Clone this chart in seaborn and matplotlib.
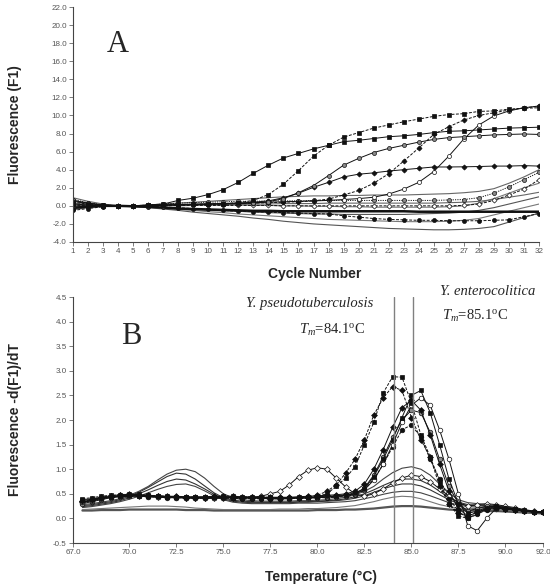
import matplotlib
matplotlib.use("Agg")
import matplotlib.pyplot as plt
import seaborn as sns
from matplotlib.ticker import FormatStrFormatter, FixedLocator

sns.set_style("ticks")
plt.rcParams['font.family'] = ['Liberation Sans', 'DejaVu Sans']
plt.rcParams['mathtext.fontset'] = 'custom'
plt.rcParams['mathtext.rm'] = 'Liberation Serif'
plt.rcParams['mathtext.it'] = 'Liberation Serif:italic'

# ---------------- Panel A data: amplification curves ----------------
cycles = list(range(1, 33))
a_sq_solid = [0.2, 0.1, 0.0, 0.0, 0.0, 0.1, 0.2, 0.6, 0.85, 1.25, 1.8, 2.6, 3.6, 4.5, 5.3, 5.8,
              6.3, 6.7, 7.1, 7.25, 7.45, 7.65, 7.75, 7.9, 8.1, 8.25, 8.3, 8.4, 8.5, 8.6, 8.65, 8.7]
a_sq_dash = [0.4, 0.2, 0.05, 0.0, 0.0, 0.05, 0.1, 0.1, 0.15, 0.2, 0.25, 0.35, 0.6, 1.25, 2.4, 3.9,
             5.5, 6.7, 7.6, 8.1, 8.6, 8.95, 9.3, 9.6, 9.9, 10.1, 10.2, 10.45, 10.5, 10.7, 10.8, 10.85]
a_gc_solid = [0.6, 0.3, 0.1, 0.0, 0.0, 0.0, 0.05, 0.1, 0.15, 0.2, 0.2, 0.25, 0.3, 0.45, 0.8, 1.45,
              2.25, 3.35, 4.5, 5.25, 5.9, 6.35, 6.7, 7.05, 7.35, 7.55, 7.65, 7.75, 7.85, 7.9, 7.95, 7.9]
a_dm_solid = [-0.3, -0.1, 0.0, 0.0, 0.0, 0.05, 0.1, 0.1, 0.15, 0.2, 0.25, 0.3, 0.4, 0.55, 0.9, 1.4,
              2.05, 2.6, 3.2, 3.5, 3.65, 3.85, 4.0, 4.15, 4.3, 4.3, 4.32, 4.35, 4.4, 4.4, 4.45, 4.4]
a_dm_dash = [0.1, 0.05, 0.0, 0.0, 0.0, 0.05, 0.1, 0.1, 0.15, 0.2, 0.2, 0.25, 0.3, 0.35, 0.4, 0.45,
             0.55, 0.75, 1.2, 1.7, 2.5, 3.55, 4.95, 6.4, 7.9, 8.75, 9.5, 10.0, 10.3, 10.6, 10.85, 11.0]
a_oc_solid = [0.5, 0.25, 0.1, 0.0, 0.0, 0.05, 0.1, 0.15, 0.2, 0.2, 0.25, 0.3, 0.35, 0.4, 0.45, 0.5,
              0.55, 0.6, 0.7, 0.8, 0.95, 1.3, 1.85, 2.6, 3.8, 5.5, 7.4, 8.95, 9.95, 10.5, 10.85, 11.05]
a_gc_dot = [0.7, 0.35, 0.1, 0.0, 0.0, 0.1, 0.2, 0.3, 0.35, 0.4, 0.45, 0.5, 0.5, 0.55, 0.55, 0.55,
            0.6, 0.6, 0.6, 0.6, 0.6, 0.6, 0.6, 0.6, 0.6, 0.65, 0.7, 0.9, 1.4, 2.1, 2.9, 3.7]
a_od_dash = [0.0, 0.0, 0.0, 0.0, 0.0, 0.0, 0.0, 0.05, 0.05, 0.05, 0.05, 0.05, 0.05, 0.05, 0.0, 0.0,
             0.0, 0.0, 0.0, 0.0, 0.0, 0.0, 0.0, 0.0, 0.0, 0.0, 0.05, 0.2, 0.6, 1.2, 1.85, 2.9]
a_fc_dash = [-0.5, -0.3, -0.1, 0.0, -0.05, -0.1, -0.15, -0.2, -0.3, -0.4, -0.5, -0.6, -0.65, -0.7, -0.75, -0.8,
             -0.85, -0.9, -1.1, -1.25, -1.4, -1.5, -1.55, -1.6, -1.6, -1.65, -1.65, -1.65, -1.6, -1.55, -1.2, -0.85]
a_u1 = [0.9, 0.5, 0.2, 0.0, 0.0, 0.1, 0.2, 0.3, 0.4, 0.5, 0.6, 0.7, 0.8, 0.9, 1.0, 1.05,
        1.1, 1.1, 1.15, 1.15, 1.2, 1.2, 1.2, 1.25, 1.3, 1.35, 1.45, 1.6, 1.9, 2.5, 3.2, 4.0]
a_u2 = [0.3, 0.15, 0.05, 0.0, 0.0, 0.0, 0.0, 0.0, 0.05, 0.1, 0.1, 0.15, 0.2, 0.2, 0.25, 0.25,
        0.25, 0.3, 0.3, 0.3, 0.3, 0.3, 0.3, 0.3, 0.3, 0.35, 0.4, 0.5, 0.7, 0.95, 1.2, 1.5]
a_u3 = [-0.2, -0.1, 0.0, 0.0, -0.05, -0.1, -0.2, -0.3, -0.35, -0.4, -0.45, -0.5, -0.55, -0.55, -0.6, -0.6,
        -0.6, -0.6, -0.6, -0.6, -0.6, -0.6, -0.6, -0.65, -0.65, -0.65, -0.65, -0.65, -0.65, -0.65, -0.65, -0.65]
a_u4 = [0.1, 0.05, 0.0, 0.0, -0.05, -0.1, -0.2, -0.3, -0.4, -0.5, -0.55, -0.6, -0.7, -0.75, -0.8, -0.85,
        -0.9, -0.9, -0.95, -0.95, -0.95, -0.95, -0.95, -0.9, -0.85, -0.8, -0.7, -0.5, -0.2, 0.2, 0.6, 1.0]
a_u5 = [-0.4, -0.2, -0.05, 0.0, -0.1, -0.2, -0.35, -0.5, -0.7, -0.85, -1.0, -1.15, -1.35, -1.5, -1.7, -1.85,
        -2.0, -2.1, -2.2, -2.3, -2.4, -2.5, -2.55, -2.6, -2.65, -2.65, -2.6, -2.5, -2.3, -1.8, -1.3, -0.8]
a_u6 = [0.0, 0.0, 0.0, 0.0, -0.05, -0.15, -0.25, -0.4, -0.5, -0.65, -0.75, -0.9, -1.0, -1.1, -1.2, -1.3,
        -1.4, -1.5, -1.55, -1.6, -1.65, -1.7, -1.75, -1.75, -1.75, -1.7, -1.6, -1.4, -1.0, -0.6, -0.2, 0.2]
a_u7 = [0.6, 0.3, 0.1, 0.0, 0.0, 0.0, 0.05, 0.1, 0.1, 0.1, 0.1, 0.1, 0.05, 0.05, 0.0, 0.0,
        -0.05, -0.05, -0.1, -0.1, -0.15, -0.15, -0.15, -0.15, -0.15, -0.1, 0.0, 0.3, 0.8, 1.4, 2.0, 2.5]

a_yticks = [-4, -2, 0, 2, 4, 6, 8, 10, 12, 14, 16, 18, 20, 22]

# ---------------- Panel B data: melting curves ----------------
temps = [67.5, 68.0, 68.5, 69.0, 69.5, 70.0, 70.5, 71.0, 71.5, 72.0, 72.5, 73.0, 73.5, 74.0, 74.5,
         75.0, 75.5, 76.0, 76.5, 77.0, 77.5, 78.0, 78.5, 79.0, 79.5, 80.0, 80.5, 81.0, 81.5, 82.0,
         82.5, 83.0, 83.5, 84.0, 84.5, 85.0, 85.5, 86.0, 86.5, 87.0, 87.5, 88.0, 88.5, 89.0, 89.5,
         90.0, 90.5, 91.0, 91.5, 92.0]
b_sq_dash = [0.40, 0.42, 0.45, 0.47, 0.48, 0.50, 0.49, 0.47, 0.46, 0.45, 0.44, 0.44, 0.43, 0.43, 0.44,
             0.45, 0.45, 0.44, 0.44, 0.43, 0.43, 0.42, 0.42, 0.42, 0.43, 0.45, 0.5, 0.65, 0.82, 1.05,
             1.5, 1.95, 2.55, 2.88, 2.87, 2.35, 1.7, 1.25, 0.75, 0.3, 0.05, 0.0, 0.1, 0.2, 0.22,
             0.2, 0.18, 0.15, 0.13, 0.12]
b_dm_dash = [0.35, 0.38, 0.42, 0.45, 0.47, 0.48, 0.47, 0.46, 0.45, 0.44, 0.43, 0.42, 0.42, 0.42, 0.43,
             0.43, 0.42, 0.41, 0.41, 0.41, 0.40, 0.40, 0.41, 0.42, 0.44, 0.47, 0.55, 0.68, 0.92, 1.2,
             1.6, 2.1, 2.45, 2.68, 2.6, 2.05, 1.6, 1.25, 0.65, 0.3, 0.1, 0.05, 0.12, 0.2, 0.22,
             0.2, 0.17, 0.15, 0.13, 0.12]
b_sq_solid = [0.38, 0.40, 0.42, 0.44, 0.46, 0.47, 0.46, 0.45, 0.45, 0.44, 0.44, 0.43, 0.43, 0.43, 0.43,
              0.43, 0.42, 0.42, 0.42, 0.42, 0.42, 0.42, 0.42, 0.43, 0.43, 0.44, 0.45, 0.46, 0.48, 0.52,
              0.6, 0.85, 1.2, 1.6, 2.05, 2.5, 2.6, 2.15, 1.5, 0.8, 0.3, 0.1, 0.15, 0.22, 0.25,
              0.22, 0.2, 0.17, 0.14, 0.12]
b_oc_solid = [0.33, 0.36, 0.40, 0.43, 0.45, 0.46, 0.46, 0.45, 0.44, 0.43, 0.43, 0.42, 0.42, 0.42, 0.42,
              0.43, 0.43, 0.43, 0.42, 0.42, 0.41, 0.41, 0.41, 0.42, 0.42, 0.43, 0.44, 0.45, 0.47, 0.5,
              0.58, 0.78, 1.1, 1.5, 1.95, 2.3, 2.45, 2.3, 1.8, 1.2, 0.5, -0.15, -0.25, 0.0, 0.2,
              0.2, 0.18, 0.15, 0.14, 0.13]
b_dm_solid = [0.36, 0.39, 0.43, 0.46, 0.48, 0.49, 0.48, 0.47, 0.46, 0.45, 0.45, 0.44, 0.44, 0.44, 0.45,
              0.45, 0.45, 0.44, 0.44, 0.43, 0.43, 0.43, 0.43, 0.44, 0.45, 0.46, 0.47, 0.48, 0.5, 0.55,
              0.7, 1.0, 1.4, 1.85, 2.25, 2.4, 2.2, 1.7, 1.1, 0.55, 0.2, 0.05, 0.12, 0.2, 0.22,
              0.2, 0.17, 0.15, 0.13, 0.12]
b_gc_solid = [0.30, 0.34, 0.38, 0.42, 0.44, 0.45, 0.45, 0.44, 0.43, 0.42, 0.42, 0.41, 0.41, 0.41, 0.41,
              0.42, 0.42, 0.41, 0.41, 0.41, 0.40, 0.40, 0.40, 0.41, 0.41, 0.42, 0.43, 0.44, 0.46, 0.5,
              0.62, 0.88, 1.25, 1.65, 2.0, 2.2, 2.15, 1.75, 1.2, 0.65, 0.3, 0.15, 0.2, 0.25, 0.25,
              0.22, 0.19, 0.16, 0.14, 0.13]
b_fc_dash = [0.32, 0.36, 0.40, 0.43, 0.45, 0.46, 0.45, 0.44, 0.43, 0.43, 0.42, 0.42, 0.41, 0.41, 0.41,
             0.41, 0.41, 0.40, 0.40, 0.40, 0.40, 0.40, 0.40, 0.41, 0.41, 0.42, 0.42, 0.43, 0.45, 0.48,
             0.58, 0.8, 1.1, 1.45, 1.8, 1.9, 1.65, 1.2, 0.8, 0.4, 0.15, 0.0, 0.08, 0.18, 0.2,
             0.19, 0.17, 0.15, 0.13, 0.12]
b_od_solid = [0.34, 0.37, 0.41, 0.44, 0.46, 0.47, 0.46, 0.45, 0.44, 0.43, 0.43, 0.42, 0.42, 0.42, 0.42,
              0.42, 0.42, 0.42, 0.43, 0.45, 0.5, 0.55, 0.68, 0.85, 0.98, 1.03, 1.0, 0.82, 0.64, 0.5,
              0.45, 0.5, 0.6, 0.72, 0.82, 0.88, 0.85, 0.75, 0.6, 0.45, 0.32, 0.25, 0.28, 0.3, 0.28,
              0.25, 0.22, 0.18, 0.15, 0.13]
b_u1 = [0.28, 0.3, 0.33, 0.36, 0.4, 0.47, 0.55, 0.65, 0.78, 0.9, 0.98, 1.0, 0.95, 0.82, 0.65,
        0.5, 0.42, 0.38, 0.36, 0.35, 0.35, 0.35, 0.35, 0.36, 0.36, 0.37, 0.38, 0.4, 0.43, 0.48,
        0.55, 0.65, 0.8, 0.93, 1.02, 1.05, 1.0, 0.88, 0.7, 0.52, 0.38, 0.32, 0.3, 0.28, 0.26,
        0.24, 0.2, 0.17, 0.14, 0.12]
b_u2 = [0.26, 0.28, 0.31, 0.34, 0.38, 0.45, 0.53, 0.63, 0.74, 0.85, 0.92, 0.9, 0.8, 0.66, 0.52,
        0.42, 0.37, 0.35, 0.34, 0.33, 0.33, 0.33, 0.33, 0.34, 0.34, 0.35, 0.36, 0.37, 0.4, 0.44,
        0.5, 0.58, 0.67, 0.75, 0.8, 0.8, 0.77, 0.68, 0.55, 0.42, 0.33, 0.28, 0.27, 0.26, 0.24,
        0.22, 0.19, 0.16, 0.13, 0.11]
b_u3 = [0.24, 0.26, 0.29, 0.32, 0.36, 0.42, 0.5, 0.58, 0.67, 0.75, 0.8, 0.78, 0.7, 0.6, 0.49,
        0.4, 0.35, 0.33, 0.32, 0.32, 0.32, 0.32, 0.32, 0.33, 0.33, 0.34, 0.35, 0.36, 0.38, 0.41,
        0.46, 0.53, 0.6, 0.66, 0.7, 0.7, 0.66, 0.58, 0.48, 0.38, 0.3, 0.26, 0.26, 0.25, 0.23,
        0.21, 0.18, 0.15, 0.13, 0.11]
b_u4 = [0.22, 0.24, 0.27, 0.3, 0.34, 0.39, 0.45, 0.52, 0.59, 0.65, 0.69, 0.7, 0.65, 0.56, 0.46,
        0.38, 0.33, 0.31, 0.3, 0.3, 0.3, 0.3, 0.3, 0.31, 0.31, 0.31, 0.32, 0.33, 0.34, 0.36,
        0.4, 0.44, 0.49, 0.53, 0.55, 0.55, 0.52, 0.46, 0.39, 0.32, 0.27, 0.24, 0.23, 0.22, 0.21,
        0.19, 0.17, 0.14, 0.12, 0.1]
b_u5 = [0.18, 0.19, 0.2, 0.21, 0.22, 0.23, 0.24, 0.25, 0.25, 0.25, 0.24, 0.23, 0.21, 0.2, 0.19,
        0.18, 0.18, 0.18, 0.18, 0.18, 0.18, 0.19, 0.19, 0.19, 0.2, 0.2, 0.21, 0.22, 0.24, 0.26,
        0.3, 0.34, 0.39, 0.43, 0.45, 0.44, 0.4, 0.34, 0.28, 0.24, 0.21, 0.2, 0.2, 0.19, 0.18,
        0.17, 0.15, 0.13, 0.11, 0.1]
b_u6 = [0.16, 0.16, 0.17, 0.17, 0.17, 0.18, 0.18, 0.18, 0.18, 0.18, 0.18, 0.17, 0.17, 0.17, 0.16,
        0.16, 0.16, 0.16, 0.16, 0.16, 0.16, 0.16, 0.16, 0.16, 0.16, 0.17, 0.17, 0.17, 0.18, 0.18,
        0.19, 0.2, 0.22, 0.24, 0.25, 0.25, 0.24, 0.22, 0.2, 0.18, 0.17, 0.16, 0.16, 0.15, 0.15,
        0.14, 0.13, 0.12, 0.11, 0.1]

tm_pseudo = 84.1
tm_entero = 85.1
b_yticks = [-0.5, 0.0, 0.5, 1.0, 1.5, 2.0, 2.5, 3.0, 3.5, 4.0, 4.5]
b_xticks = [67.0, 70.0, 72.5, 75.0, 77.5, 80.0, 82.5, 85.0, 87.5, 90.0, 92.0]

# ---------------- styles ----------------
BLK = '#111111'
GRY = '#8a8a8a'


def style(kind, ls, ms):
    d = dict(color=BLK, linestyle=ls, linewidth=0.7, markersize=ms,
             markeredgewidth=0.5, markeredgecolor=BLK)
    if kind == 'sq':
        d.update(marker='s', markerfacecolor=BLK)
    elif kind == 'dm':
        d.update(marker='D', markerfacecolor=BLK, markersize=ms * 0.9)
    elif kind == 'gc':
        d.update(marker='o', markerfacecolor=GRY)
    elif kind == 'oc':
        d.update(marker='o', markerfacecolor='white')
    elif kind == 'od':
        d.update(marker='D', markerfacecolor='white', markersize=ms * 0.9)
    elif kind == 'fc':
        d.update(marker='o', markerfacecolor=BLK)
    return d


DASH = (0, (3, 1.5))
DOT = (0, (1.2, 1.2))

fig = plt.figure(figsize=(5.5, 5.87), dpi=100)
axA = fig.add_axes([73 / 550, 1 - 242 / 587, 466 / 550, 235 / 587])
axB = fig.add_axes([73 / 550, 1 - 543 / 587, 470 / 550, 246 / 587])

# Panel A plotting
unmarked_A = [(a_u5, '#555555', 0.8), (a_u6, '#777777', 0.8), (a_u4, '#555555', 0.8),
              (a_u7, '#777777', 0.8), (a_u2, '#666666', 0.8), (a_u1, '#666666', 0.8),
              (a_u3, '#111111', 1.8)]
for vals, col, lw in unmarked_A:
    sns.lineplot(x=cycles, y=vals, ax=axA, color=col, linewidth=lw, estimator=None, sort=False)

marked_A = [(a_fc_dash, 'fc', DASH), (a_od_dash, 'od', DASH), (a_gc_dot, 'gc', DOT),
            (a_oc_solid, 'oc', '-'), (a_dm_dash, 'dm', DASH), (a_dm_solid, 'dm', '-'),
            (a_gc_solid, 'gc', '-'), (a_sq_dash, 'sq', DASH), (a_sq_solid, 'sq', '-')]
for vals, kind, ls in marked_A:
    sns.lineplot(x=cycles, y=vals, ax=axA, estimator=None, sort=False, **style(kind, ls, 2.9))

# Panel B plotting
unmarked_B = [(b_u6, '#555555', 1.6), (b_u5, '#777777', 0.8), (b_u4, '#444444', 0.8),
              (b_u3, '#333333', 0.8), (b_u2, '#333333', 0.8), (b_u1, '#444444', 0.8)]
for vals, col, lw in unmarked_B:
    sns.lineplot(x=temps, y=vals, ax=axB, color=col, linewidth=lw, estimator=None, sort=False)

marked_B = [(b_od_solid, 'od', '-'), (b_fc_dash, 'fc', DASH), (b_gc_solid, 'gc', '-'),
            (b_dm_solid, 'dm', '-'), (b_oc_solid, 'oc', '-'), (b_sq_solid, 'sq', '-'),
            (b_dm_dash, 'dm', DASH), (b_sq_dash, 'sq', DASH)]
for vals, kind, ls in marked_B:
    sns.lineplot(x=temps, y=vals, ax=axB, estimator=None, sort=False, **style(kind, ls, 3.3))

for tm in (tm_pseudo, tm_entero):
    axB.axvline(tm, color='#808080', linewidth=1.0, zorder=5)

# axes styling
for ax in (axA, axB):
    for s in ('top', 'right'):
        ax.spines[s].set_visible(False)
    for s in ('left', 'bottom'):
        ax.spines[s].set_color('#444444')
        ax.spines[s].set_linewidth(0.8)
    ax.tick_params(axis='both', which='major', length=3, width=0.6, color='#666666',
                   labelsize=5.8, labelcolor='#555555', pad=1.5, direction='out')
    ax.set_xlabel('')
    ax.set_ylabel('')

axA.set_xlim(1, 32)
axA.set_ylim(-4, 22)
axA.xaxis.set_major_locator(FixedLocator(cycles))
axA.yaxis.set_major_locator(FixedLocator(a_yticks))
axA.yaxis.set_major_formatter(FormatStrFormatter('%.1f'))

axB.set_xlim(67, 92)
axB.set_ylim(-0.5, 4.5)
axB.xaxis.set_major_locator(FixedLocator(b_xticks))
axB.xaxis.set_major_formatter(FormatStrFormatter('%.1f'))
axB.yaxis.set_major_locator(FixedLocator(b_yticks))
axB.yaxis.set_major_formatter(FormatStrFormatter('%.1f'))


def ft(x, y, s, **kw):
    fig.text(x / 550, 1 - y / 587, s, ha='center', va='center', **kw)


ft(118, 45, 'A', fontsize=22, family='Liberation Serif')
ft(131, 337, 'B', fontsize=22, family='Liberation Serif')
ft(315, 274, 'Cycle Number', fontsize=10, fontweight='bold')
ft(321, 577, 'Temperature (\u00b0C)', fontsize=10, fontweight='bold')
ft(15, 125, 'Fluorescence (F1)', fontsize=10, fontweight='bold', rotation=90)
ft(15, 420, 'Fluorescence -d(F1)/dT', fontsize=10, fontweight='bold', rotation=90)
ft(310, 304, 'Y. pseudotuberculosis', fontsize=10.5, family='Liberation Serif', style='italic')
ft(332, 330, r'$T_m$=84.1$^{\mathrm{o}}$C', fontsize=10.5, family='Liberation Serif')
ft(488, 292, 'Y. enterocolitica', fontsize=10.5, family='Liberation Serif', style='italic')
ft(475, 316, r'$T_m$=85.1$^{\mathrm{o}}$C', fontsize=10.5, family='Liberation Serif')

fig.savefig('out.png', dpi=100)
